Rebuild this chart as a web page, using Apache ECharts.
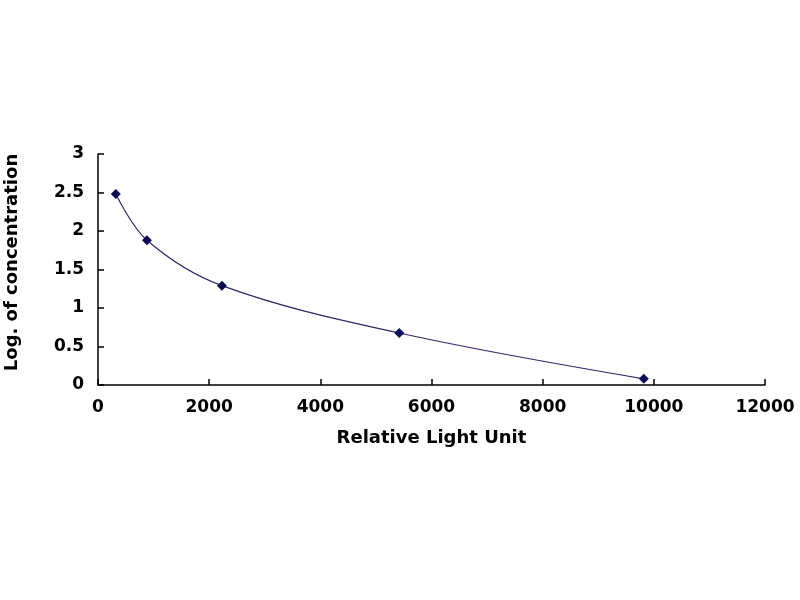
<html lang="en">
<head>
    <meta charset="UTF-8">
    <title>Standard Curve</title>
    <script src="https://cdn.jsdelivr.net/npm/echarts@6/dist/echarts.min.js"></script>
    <style>
        body { margin: 0; background: #fff; }
    </style>
</head>
<body>
<div id="main" style="width: 800px;height:600px;"></div>
<script type="text/javascript">
    // values
    var rlu = [320, 880, 2230, 5420, 9820];
    var logConc = [2.48, 1.88, 1.29, 0.675, 0.08];
    var yTicks = ['0', '0.5', '1', '1.5', '2', '2.5', '3'];

    var points = rlu.map(function (x, i) { return [x, logConc[i]]; });
    var labelFont = { fontFamily: 'DejaVu Sans', fontWeight: 'bold', fontSize: 17, color: '#000' };
    var nameFont = { fontFamily: 'DejaVu Sans', fontWeight: 'bold', fontSize: 18, color: '#000' };

    var myChart = echarts.init(document.getElementById('main'));
    var option = {
        backgroundColor: '#fff',
        animation: false,
        grid: { left: 98, right: 35, top: 154, bottom: 215, containLabel: false, outerBoundsMode: 'none' },
        xAxis: {
            type: 'value',
            min: 0, max: 12000, interval: 2000,
            name: 'Relative Light Unit',
            nameLocation: 'middle',
            nameGap: 44,
            nameTextStyle: nameFont,
            axisLine: { lineStyle: { color: '#000', width: 1.5 } },
            axisTick: { inside: true, length: 6, lineStyle: { color: '#000', width: 1.5 } },
            axisLabel: Object.assign({
                margin: 14,
                formatter: function (v) { return String(v); }
            }, labelFont),
            splitLine: { show: false }
        },
        yAxis: {
            type: 'value',
            min: 0, max: 3, interval: 0.5,
            name: 'Log. of concentration',
            nameLocation: 'middle',
            nameGap: 77,
            nameTextStyle: Object.assign({ padding: [0, 0, 0, 14] }, nameFont),
            axisLine: { show: true, lineStyle: { color: '#000', width: 1.5 } },
            axisTick: { show: true, inside: true, length: 6, lineStyle: { color: '#000', width: 1.5 } },
            axisLabel: Object.assign({
                margin: 14,
                formatter: function (v) { return yTicks[Math.round(v * 2)]; }
            }, labelFont),
            splitLine: { show: false }
        },
        series: [{
            type: 'line',
            data: points,
            smooth: 0.35,
            symbol: 'diamond',
            symbolSize: 10,
            itemStyle: { color: '#0a0a55' },
            lineStyle: { color: '#2b2b6b', width: 1.2 }
        }]
    };
    myChart.setOption(option);
</script>
</body>
</html>
